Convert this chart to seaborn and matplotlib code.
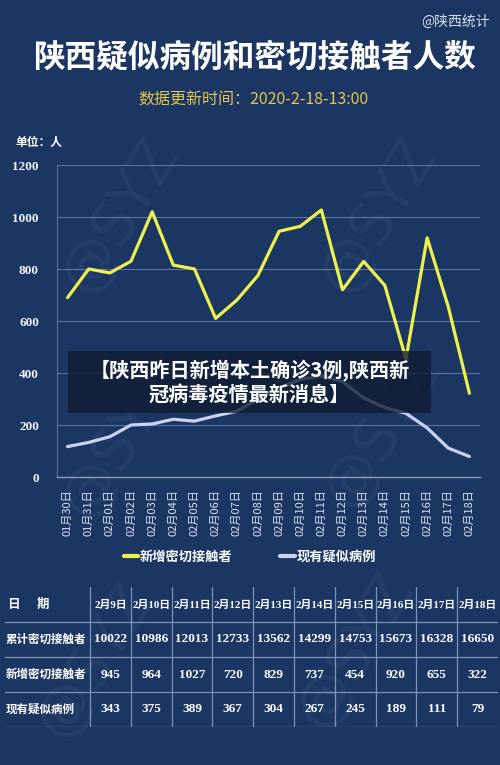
import matplotlib
matplotlib.use('Agg')
import matplotlib.pyplot as plt
import numpy as np
import pandas as pd
import seaborn as sns
from matplotlib.patches import Rectangle

# 图表数据
dates = ['01月30日', '01月31日', '02月01日', '02月02日', '02月03日', '02月04日',
         '02月05日', '02月06日', '02月07日', '02月08日', '02月09日', '02月10日',
         '02月11日', '02月12日', '02月13日', '02月14日', '02月15日', '02月16日',
         '02月17日', '02月18日']
new_contacts = [690, 800, 785, 830, 1020, 815, 800, 610, 680, 775,
                945, 964, 1027, 720, 829, 737, 454, 920, 655, 322]
suspected = [117, 133, 155, 200, 204, 222, 215, 235, 253, 298,
             343, 375, 389, 367, 304, 267, 245, 189, 111, 79]
series_names = ['新增密切接触者', '现有疑似病例']
y_ticks = [0, 200, 400, 600, 800, 1000, 1200]

# 表格数据
table_dates = ['2月9日', '2月10日', '2月11日', '2月12日', '2月13日',
               '2月14日', '2月15日', '2月16日', '2月17日', '2月18日']
total_contacts = [10022, 10986, 12013, 12733, 13562, 14299, 14753, 15673, 16328, 16650]
table_new = [945, 964, 1027, 720, 829, 737, 454, 920, 655, 322]
table_suspected = [343, 375, 389, 367, 304, 267, 245, 189, 111, 79]
row_labels = ['累计密切接触者', '新增密切接触者', '现有疑似病例']

BG = '#1c3663'
YELLOW = '#eef24f'
LAVENDER = '#c9d3f0'
GRID = '#5a739f'
CJK = ['Noto Sans CJK SC', 'DejaVu Sans']
SERIF = ['Liberation Serif', 'Noto Sans CJK SC']

sns.set_theme(style='dark', rc={'axes.facecolor': BG, 'figure.facecolor': BG,
                                'savefig.facecolor': BG})
plt.rcParams['font.family'] = CJK

W, H = 500, 765
fig = plt.figure(figsize=(W / 100, H / 100), dpi=100)

# 水印
for wx, wy in [(120, 215), (378, 215), (120, 440), (382, 430), (95, 660), (355, 650)]:
    fig.text(wx / W, 1 - wy / H, '@SYZ', rotation=58, fontsize=42, color='white',
             alpha=0.045, ha='center', va='center', family='DejaVu Sans')

# 标题
fig.text(490 / W, 1 - 22 / H, '@陕西统计', ha='right', va='center', fontsize=10, color='#d8deea')
fig.text(254 / W, 1 - 57 / H, '陕西疑似病例和密切接触者人数', ha='center', va='center',
         fontsize=22.8, weight='bold', color='white')
fig.text(253 / W, 1 - 100 / H, '数据更新时间：2020-2-18-13:00', ha='center', va='center',
         fontsize=11.5, color='#e3c64c')
fig.text(15 / W, 1 - 142 / H, '单位：人', ha='left', va='center', fontsize=8.5,
         weight='bold', color='white')

# 折线图
df = pd.DataFrame({
    'date': dates * 2,
    'value': new_contacts + suspected,
    'series': [series_names[0]] * len(dates) + [series_names[1]] * len(dates),
})

ax = fig.add_axes([57 / W, 1 - 477 / H, 423 / W, 312 / H])
ax.set_facecolor('none')
sns.lineplot(data=df, x='date', y='value', hue='series', palette=[YELLOW, LAVENDER],
             sort=False, linewidth=2.3, ax=ax)
for ln in ax.get_lines():
    ln.set_solid_joinstyle('round')
    ln.set_solid_capstyle('round')
handles, labels = ax.get_legend_handles_labels()
ax.get_legend().remove()

ax.set_xlim(-0.5, len(dates) - 0.5)
ax.set_ylim(0, 1200)
ax.set_yticks(y_ticks)
ax.set_xlabel('')
ax.set_ylabel('')
ax.yaxis.grid(True, color=GRID, linewidth=0.8)
ax.xaxis.grid(False)
for side in ['top', 'right']:
    ax.spines[side].set_visible(False)
ax.spines['left'].set_color(GRID)
ax.spines['left'].set_linewidth(0.8)
ax.spines['bottom'].set_color('#8a9bbb')
ax.spines['bottom'].set_linewidth(1.0)

ax.tick_params(axis='y', length=0, pad=13)
for lab in ax.get_yticklabels():
    lab.set_family(SERIF)
    lab.set_weight('bold')
    lab.set_fontsize(9.5)
    lab.set_color('#f2f4f8')

ax.set_xticks(np.arange(-0.5, len(dates), 1), minor=True)
ax.tick_params(axis='x', which='major', length=0, pad=9)
ax.tick_params(axis='x', which='minor', length=4, width=0.8, color='#8a9bbb', direction='out')
ax.set_xticks(range(len(dates)))
ax.set_xticklabels(dates, rotation=90, fontsize=8, color='#dbe2f0')

fig.legend(handles, labels, loc='center', bbox_to_anchor=(0.5, 1 - 557 / H), ncol=2,
           frameon=False, handlelength=1.1, handletextpad=0.15, columnspacing=3.6,
           prop={'family': CJK, 'weight': 'bold', 'size': 9.5}, labelcolor='white')
for lh in fig.legends[0].get_lines():
    lh.set_linewidth(3)

# 新闻标题横幅
fig.add_artist(Rectangle((68 / W, 1 - 413 / H), 363 / W, 62 / H, transform=fig.transFigure,
                         facecolor='#0f1a30', alpha=0.78, edgecolor='none', zorder=5))
fig.text(249.5 / W, 1 - 382 / H, '【陕西昨日新增本土确诊3例,陕西新\n冠病毒疫情最新消息】',
         ha='center', va='center', multialignment='center', fontsize=14.5,
         weight='bold', color='white', linespacing=1.15, zorder=6)

# 表格
col_w = 40.8
label_w = 85 / col_w
tax = fig.add_axes([5 / W, 1 - 727 / H, 493 / W, 140 / H])
tax.set_xlim(-label_w, len(table_dates))
tax.set_ylim(4, 0)
tax.axis('off')
line_kw = dict(color='#7d92b8', linewidth=0.9)
for r in range(1, 5):
    tax.plot([-label_w, len(table_dates)], [r, r], **line_kw)
for c in range(len(table_dates)):
    tax.plot([c, c], [0, 4], **line_kw)

tax.text(-label_w + 2 / col_w, 0.5, '日', ha='left', va='center', fontsize=9,
         weight='bold', color='white')
tax.text(-label_w + 32 / col_w, 0.5, '期', ha='left', va='center', fontsize=9,
         weight='bold', color='white')
for r, name in enumerate(row_labels, start=1):
    tax.text(-label_w + 1 / col_w, r + 0.5, name, ha='left', va='center', fontsize=8.3,
             weight='bold', color='white')

rows = [total_contacts, table_new, table_suspected]
for c, d in enumerate(table_dates):
    tax.text(c + 0.5, 0.5, d, ha='center', va='center', fontsize=7.8, weight='bold',
             color='white', family=SERIF)
    for r, vals in enumerate(rows, start=1):
        tax.text(c + 0.5, r + 0.5, str(vals[c]), ha='center', va='center', fontsize=9.5,
                 weight='bold', color='white', family=SERIF)

fig.savefig('out.png', dpi=100, facecolor=BG)
